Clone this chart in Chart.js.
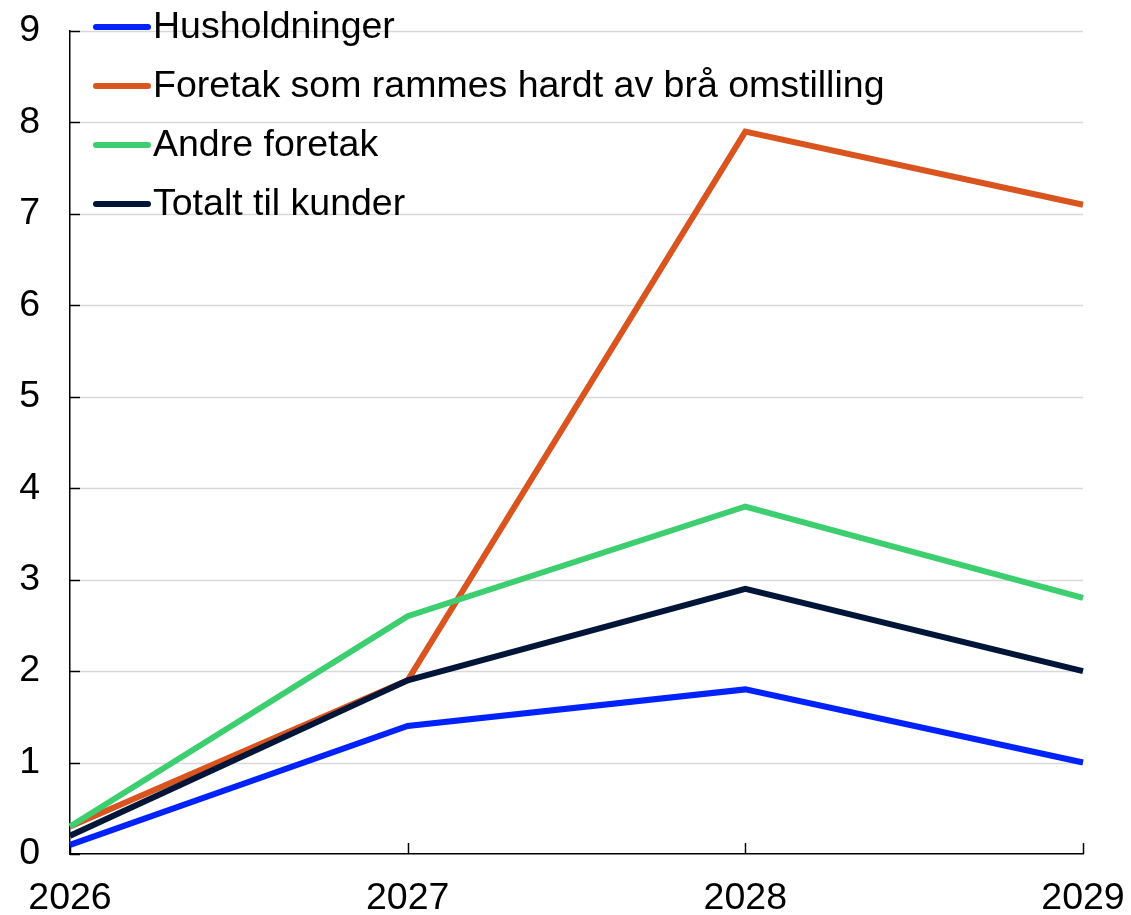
<!DOCTYPE html>
<html>
<head>
<meta charset="utf-8">
<script src="https://cdn.jsdelivr.net/npm/chart.js@4.4.1/dist/chart.umd.min.js"></script>
<style>
html,body{margin:0;padding:0;background:#fff;}
#wrap{width:1131px;height:915px;position:relative;}
</style>
</head>
<body>
<div id="wrap"><canvas id="c" width="1131" height="915"></canvas></div>
<script>
const years = ['2026', '2027', '2028', '2029'];
const husholdninger = [0.1, 1.4, 1.8, 1.0];
const foretakBraa = [0.3, 1.9, 7.9, 7.1];
const andreForetak = [0.3, 2.6, 3.8, 2.8];
const totaltKunder = [0.2, 1.9, 2.9, 2.0];
const yTicks = [0, 1, 2, 3, 4, 5, 6, 7, 8, 9];
const seriesNames = ['Husholdninger', 'Foretak som rammes hardt av brå omstilling', 'Andre foretak', 'Totalt til kunder'];
const seriesColors = ['#0022FF', '#D9541E', '#3DCF6F', '#001538'];

const FONT = '"Liberation Sans", Arial, sans-serif';

const gridPlugin = {
  id: 'gridTicks',
  beforeDatasetsDraw(chart) {
    const ctx = chart.ctx, y = chart.scales.y, x = chart.scales.x;
    const a = chart.chartArea;
    ctx.save();
    ctx.strokeStyle = '#D9D9D9';
    ctx.lineWidth = 1.5;
    yTicks.forEach(v => {
      if (v === 0) return;
      const py = Math.round(y.getPixelForValue(v)) + 0.5;
      ctx.beginPath(); ctx.moveTo(a.left + 10, py); ctx.lineTo(a.right, py); ctx.stroke();
    });
    ctx.strokeStyle = '#000';
    ctx.lineWidth = 1.5;
    yTicks.forEach(v => {
      const py = Math.round(y.getPixelForValue(v)) + 0.5;
      ctx.beginPath(); ctx.moveTo(a.left, py); ctx.lineTo(a.left + 10, py); ctx.stroke();
    });
    years.forEach((lab, i) => {
      const px = Math.round(x.getPixelForValue(i)) + 0.5;
      ctx.beginPath(); ctx.moveTo(px, a.bottom); ctx.lineTo(px, a.bottom - 11); ctx.stroke();
    });
    ctx.restore();
  },
  afterDraw(chart) {
    const ctx = chart.ctx;
    ctx.save();
    chart.data.datasets.forEach((ds, i) => {
      const yy = 27 + 59 * i;
      ctx.strokeStyle = ds.borderColor;
      ctx.lineWidth = 6;
      ctx.lineCap = 'round';
      ctx.beginPath(); ctx.moveTo(96, yy); ctx.lineTo(148, yy); ctx.stroke();
      ctx.fillStyle = '#000';
      ctx.font = '37.5px ' + FONT;
      ctx.textBaseline = 'middle';
      ctx.textAlign = 'left';
      ctx.fillText(ds.label, 153, yy + 1);
    });
    ctx.restore();
  }
};

const datasets = [husholdninger, foretakBraa, andreForetak, totaltKunder].map((d, i) => ({
  label: seriesNames[i],
  data: d,
  borderColor: seriesColors[i],
  backgroundColor: seriesColors[i],
  borderWidth: 6,
  pointRadius: 0,
  tension: 0,
  fill: false,
  order: 3 - i
}));

new Chart(document.getElementById('c'), {
  type: 'line',
  data: { labels: years, datasets: datasets },
  options: {
    responsive: false,
    animation: false,
    devicePixelRatio: 1,
    layout: { padding: { top: 31, right: 48, left: 0, bottom: 0 } },
    plugins: { legend: { display: false }, tooltip: { enabled: false } },
    scales: {
      x: {
        type: 'category',
        offset: false,
        grid: { display: false, drawTicks: false },
        border: { display: true, color: '#000', width: 1.5 },
        ticks: { color: '#000', font: { family: FONT, size: 37.5 }, padding: 22, maxRotation: 0, autoSkip: false },
        afterFit(s) { s.height = 61; s.paddingLeft = 0; s.paddingRight = 0; }
      },
      y: {
        min: 0, max: 9,
        grid: { display: false, drawTicks: false },
        border: { display: true, color: '#000', width: 1.5 },
        ticks: { color: '#000', font: { family: FONT, size: 37.5 }, padding: 30, stepSize: 1 },
        afterFit(s) { s.width = 70; s.paddingTop = 0; s.paddingBottom = 0; }
      }
    }
  },
  plugins: [gridPlugin]
});
</script>
</body>
</html>
